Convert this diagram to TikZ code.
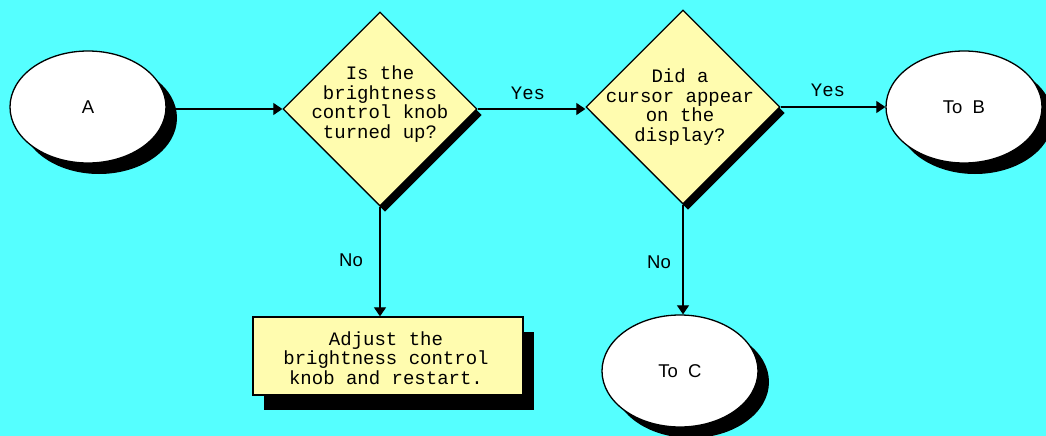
\documentclass[tikz,border=0pt]{standalone}
\usepackage{fontspec}
\setmainfont{Liberation Sans}
\newfontfamily\pix{Liberation Mono}
\usetikzlibrary{shapes.geometric,arrows.meta,shadows}
\definecolor{bg}{RGB}{85,255,255}
\definecolor{pale}{RGB}{255,252,175}
\begin{document}
\begin{tikzpicture}[x=1pt,y=-1pt,
  term/.style={ellipse,draw=black,line width=1.3pt,fill=white,
    minimum width=156pt,minimum height=112pt,inner sep=0pt,
    font=\fontsize{18.5}{20}\selectfont,
    drop shadow={opacity=1,fill=black,shadow xshift=11pt,shadow yshift=-11pt}},
  decision/.style={diamond,draw=black,line width=1.3pt,fill=pale,
    minimum width=194pt,minimum height=194pt,inner sep=0pt,
    drop shadow={opacity=1,fill=black,shadow xshift=5pt,shadow yshift=-6pt}},
  procbox/.style={rectangle,draw=black,line width=1.3pt,fill=pale,
    minimum width=270pt,minimum height=78pt,inner sep=0pt,
    drop shadow={opacity=1,fill=black,shadow xshift=11pt,shadow yshift=-15pt}},
  pixtext/.style={font=\pix\fontsize{19}{19.5}\selectfont,align=center,inner sep=0pt},
  sanslabel/.style={font=\fontsize{18.5}{20}\selectfont,inner sep=0pt},
  arr/.style={line width=1.2pt,-{Triangle[length=9pt,width=12pt]}}
]
\fill[bg] (0,0) rectangle (1046,436);
\useasboundingbox (0,0) rectangle (1046,436);

\node[term] (A) at (88,107) {A};
\node[decision] (D1) at (380,109) {};
\node[pixtext] (T1) at (380,104) {Is the\\brightness\\control knob\\turned up?};
\node[decision] (D2) at (683,107) {};
\node[pixtext] (T2) at (680,107) {Did a\\cursor appear\\on the\\display?};
\node[term] (B) at (964,107) {To\ \ B};
\node[procbox] (P) at (388,356) {};
\node[pixtext] (PT) at (386,358) {Adjust the\\brightness control\\knob and restart.};
\node[term] (C) at (680,371) {To\ \ C};

\draw[arr] (A.east |- D1.west) -- (D1.west);
\draw[arr] (D1.east) -- (D1.east -| D2.west);
\draw[arr] (D2.east) -- (D2.east -| B.west);
\draw[arr] (D1.south) -- (D1.south |- P.north);
\draw[arr] (D2.south) -- (D2.south |- C.north);

\node[pixtext] (Y1) at (528,93) {Yes};
\node[pixtext] (Y2) at (828,90) {Yes};
\node[sanslabel] (N1) at (351,260) {No};
\node[sanslabel] (N2) at (659,262) {No};
\end{tikzpicture}
\end{document}
